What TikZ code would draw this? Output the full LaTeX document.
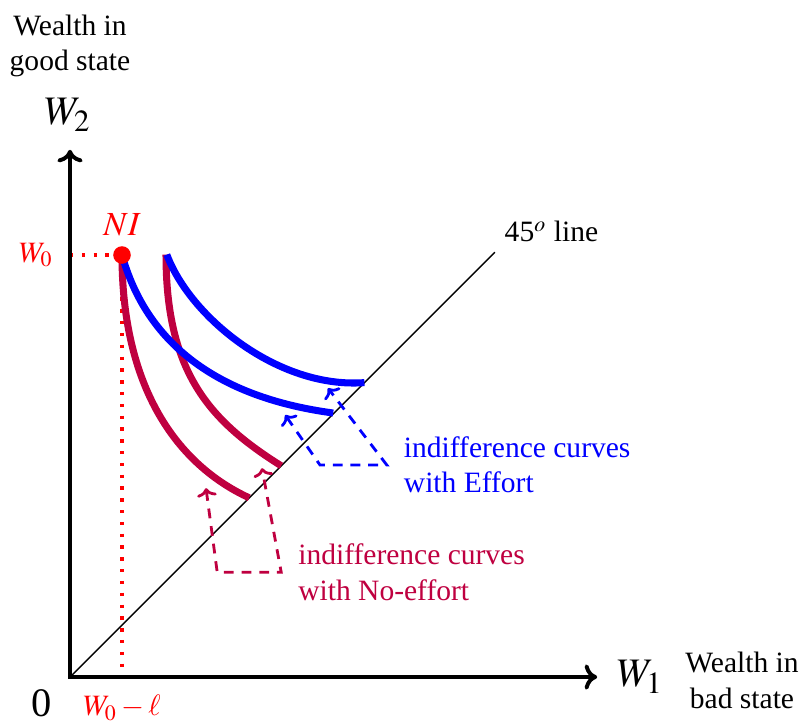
\documentclass[tikz,border=0pt]{standalone}
\usepackage{mathptmx}
\usepackage[no-math]{fontspec}
\setmainfont{Liberation Serif}
\usetikzlibrary{arrows.meta}

\begin{document}
\begin{tikzpicture}[
    font=\fontsize{10.5pt}{12.6pt}\selectfont,
    axisLine/.style={draw={rgb,255:red,0;green,0;blue,0}, line width=1.4pt, {To[length=4.5pt, width=9pt]}-{To[length=4.5pt, width=9pt]}},
    noEffort/.style={draw={rgb,255:red,191;green,0;blue,64}, line width=2.5pt},
    withEffort/.style={draw={rgb,255:red,0;green,0;blue,255}, line width=2.5pt},
    noEffortArrow/.style={draw={rgb,255:red,191;green,0;blue,64}, line width=1pt, dash pattern=on 3.5pt off 2.8pt, {To[length=3pt, width=7pt]}-{To[length=3pt, width=7pt]}},
    withEffortArrow/.style={draw={rgb,255:red,0;green,0;blue,255}, line width=1pt, dash pattern=on 3.5pt off 2.8pt, {To[length=3pt, width=7pt]}-{To[length=3pt, width=7pt]}},
    markLine/.style={draw={rgb,255:red,255;green,0;blue,0}, line width=1.2pt, dash pattern=on 1.2pt off 3pt}
]

    \useasboundingbox (-0.875,-0.5625) rectangle (9.125,8.4625);

    \coordinate (ndOrigin) at (0,0);
    \coordinate (ndTopY) at (0,6.59);
    \coordinate (ndEndX) at (6.59,0);
    \coordinate (ndLineEnd) at (5.31,5.31);
    \coordinate (ndWzero) at (0,5.275);
    \coordinate (ndWzeroL) at (0.65,0);
    \node[circle, fill={rgb,255:red,255;green,0;blue,0}, inner sep=0pt, minimum size=0.2cm] (ndNI) at (0.65,5.275) {};

    \draw[markLine] (ndWzero) -- (ndNI.center) -- (ndWzeroL);
    \draw[line width=0.5pt] (ndOrigin) -- (ndLineEnd);
    \draw[axisLine] (ndTopY) -- (ndOrigin) -- (ndEndX);

    \draw[noEffort] (ndNI.center) .. controls (0.65,3.6) and (1.35,2.65) .. (2.24,2.24);
    \draw[noEffort] (1.2,5.28) .. controls (1.2,3.8) and (1.75,3.2) .. (2.64,2.64);
    \draw[withEffort] (ndNI.center) .. controls (0.95,4.2) and (1.8,3.5) .. (3.29,3.3);
    \draw[withEffort] (1.21,5.28) .. controls (1.5,4.5) and (2.6,3.6) .. (3.68,3.68);
    \node[circle, fill={rgb,255:red,255;green,0;blue,0}, inner sep=0pt, minimum size=0.22cm] at (ndNI) {};

    \coordinate (ndRedTipA) at (1.7,2.36);
    \coordinate (ndRedCornerA) at (1.84,1.31);
    \coordinate (ndRedCornerB) at (2.64,1.31);
    \coordinate (ndRedTipB) at (2.4,2.61);
    \draw[noEffortArrow] (ndRedTipA) -- (ndRedCornerA) -- (ndRedCornerB) -- (ndRedTipB);

    \coordinate (ndBlueTipA) at (2.69,3.275);
    \coordinate (ndBlueCornerA) at (3.125,2.65);
    \coordinate (ndBlueCornerB) at (3.96,2.65);
    \coordinate (ndBlueTipB) at (3.225,3.61);
    \draw[withEffortArrow] (ndBlueTipA) -- (ndBlueCornerA) -- (ndBlueCornerB) -- (ndBlueTipB);

    \node[anchor=west, xshift=0.09cm, align=left, text={rgb,255:red,191;green,0;blue,64}] (ndNoEffortText) at (ndRedCornerB) {indifference curves\\with No-effort};
    \node[anchor=west, xshift=0.09cm, align=left, text={rgb,255:red,0;green,0;blue,255}] (ndEffortText) at (ndBlueCornerB) {indifference curves\\with Effort};

    \node[anchor=south west] (ndLineText) at (ndLineEnd) {45$^o$ line};
    \node[above, text={rgb,255:red,255;green,0;blue,0}, font=\large] (ndNIText) at (ndNI.north) {$NI$};
    \node[text={rgb,255:red,255;green,0;blue,0}] (ndWzeroText) at (-0.425,5.275) {$W_0$};
    \node[text={rgb,255:red,255;green,0;blue,0}] (ndWzeroLText) at (0.65,-0.39) {$W_0-\ell$};
    \node[font=\Large] (ndZero) at (-0.35,-0.33) {0};
    \node[font=\Large] (ndWtwo) at (-0.03,7.025) {$W_2$};
    \node[font=\Large] (ndWone) at (7.125,0) {$W_1$};
    \node[align=center] (ndGoodText) at (0,7.89) {Wealth in\\good state};
    \node[align=center] (ndBadText) at (8.4,-0.04) {Wealth in\\bad state};

\end{tikzpicture}
\end{document}
